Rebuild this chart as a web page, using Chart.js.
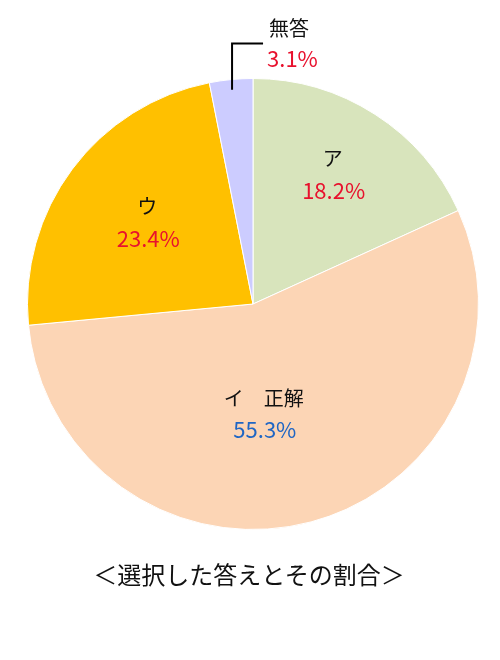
<!DOCTYPE html>
<html lang="ja">
<head>
<meta charset="utf-8">
<script src="https://cdn.jsdelivr.net/npm/chart.js@4/dist/chart.umd.min.js"></script>
<style>
html,body{margin:0;padding:0;background:#fff;}
#wrap{position:relative;width:500px;height:660px;}
#title{position:absolute;left:0;width:498px;top:556px;text-align:center;font:24px "Noto Sans CJK JP",sans-serif;color:#111;}
</style>
</head>
<body>
<div id="wrap">
<canvas id="pie" width="500" height="660"></canvas>
<div id="title">＜選択した答えとその割合＞</div>
</div>
<script>
const labels=['ア','イ　正解','ウ','無答'];
const shares=[18.2,55.3,23.4,3.1];
const pctText=['18.2%','55.3%','23.4%','3.1%'];
const colors=['#d8e4bc','#fcd5b5','#ffc000','#ccccff'];
const pctColors=['#e8112d','#1f66c4','#e8112d','#e8112d'];

// label placement: fraction of radius, angle tweak (deg); null = outside with leader
const place=[[0.675,-1.2],[0.49,9.3],[0.593,1],null];

const FONT='"Noto Sans CJK JP",sans-serif';
const labelPlugin={
  id:'labels',
  afterDatasetsDraw(chart){
    const ctx=chart.ctx;
    const arcs=chart.getDatasetMeta(0).data;
    arcs.forEach((a,i)=>{
      const mid=(a.startAngle+a.endAngle)/2;
      const R=a.outerRadius;
      ctx.save();
      ctx.textBaseline='middle';
      if(place[i]){
        const ang=mid+place[i][1]*Math.PI/180;
        const x=a.x+Math.cos(ang)*R*place[i][0];
        const y=a.y+Math.sin(ang)*R*place[i][0];
        ctx.textAlign='center';
        ctx.fillStyle='#111';
        ctx.font='20px '+FONT;
        ctx.fillText(labels[i],x,y-16);
        ctx.fillStyle=pctColors[i];
        ctx.font='22px '+FONT;
        ctx.fillText(pctText[i],x+1,y+16);
      }else{
        const sx=a.x+Math.cos(mid)*R*0.955;
        const sy=a.y+Math.sin(mid)*R*0.955;
        const ty=a.y-R-35;
        ctx.strokeStyle='#000';
        ctx.lineWidth=2;
        ctx.beginPath();
        ctx.moveTo(sx,sy);
        ctx.lineTo(sx,ty);
        ctx.lineTo(sx+31,ty);
        ctx.stroke();
        ctx.textAlign='left';
        ctx.fillStyle='#111';
        ctx.font='20px '+FONT;
        ctx.fillText(labels[i],sx+37,ty-15);
        ctx.fillStyle=pctColors[i];
        ctx.font='22px '+FONT;
        ctx.fillText(pctText[i],sx+35,ty+15);
      }
      ctx.restore();
    });
  }
};

new Chart(document.getElementById('pie'),{
  type:'pie',
  data:{labels:labels,datasets:[{data:shares,backgroundColor:colors,borderColor:'#fff',borderWidth:1}]},
  options:{
    responsive:false,
    animation:false,
    layout:{padding:{left:27,right:21,top:78,bottom:130}},
    plugins:{legend:{display:false},tooltip:{enabled:false}}
  },
  plugins:[labelPlugin]
});
</script>
</body>
</html>
